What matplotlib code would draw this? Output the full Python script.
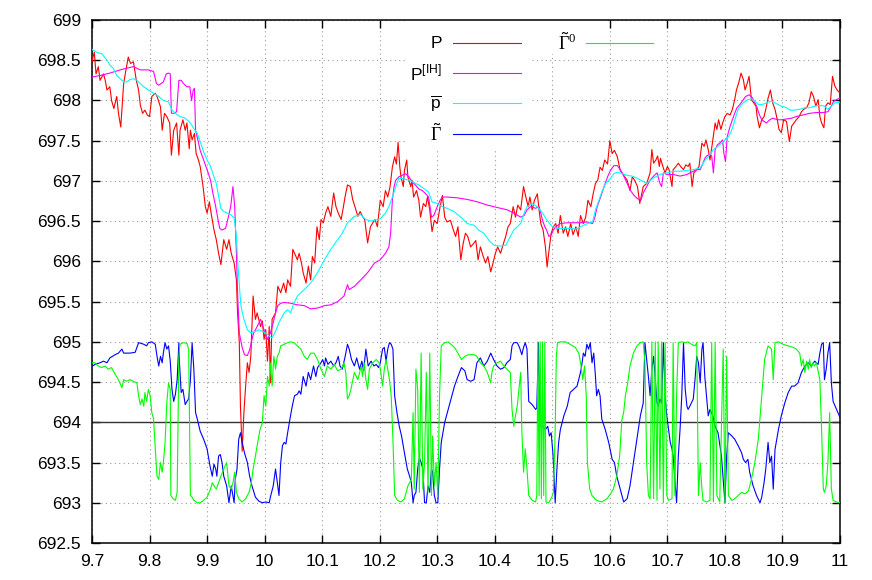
import matplotlib
matplotlib.use("Agg")
import matplotlib.pyplot as plt
from matplotlib.patches import Rectangle
from matplotlib.ticker import MultipleLocator, FormatStrFormatter

plt.rcParams['font.family'] = ['Liberation Sans', 'DejaVu Sans']
plt.rcParams['mathtext.fontset'] = 'custom'
plt.rcParams['mathtext.rm'] = 'Liberation Sans'
plt.rcParams['mathtext.sf'] = 'Liberation Serif'

# price P
p_x = [9.699, 9.704, 9.707, 9.711, 9.714, 9.720, 9.723, 9.726, 9.731, 9.734, 9.738, 9.743, 9.746, 9.750,
       9.755, 9.759, 9.763, 9.767, 9.772, 9.777, 9.781, 9.784, 9.788, 9.792, 9.796, 9.800, 9.804, 9.810,
       9.813, 9.819, 9.822, 9.826, 9.830, 9.835, 9.838, 9.842, 9.847, 9.851, 9.853, 9.858, 9.862, 9.865,
       9.869, 9.871, 9.874, 9.878, 9.881, 9.885, 9.888, 9.893, 9.897, 9.900, 9.904, 9.907, 9.912, 9.916,
       9.920, 9.924, 9.929, 9.934, 9.938, 9.942, 9.947, 9.951, 9.953, 9.956, 9.958, 9.961, 9.964, 9.967,
       9.970, 9.973, 9.976, 9.980, 9.984, 9.987, 9.993, 9.996, 9.999, 10.002, 10.005, 10.008, 10.010,
       10.013, 10.019, 10.023, 10.028, 10.033, 10.037, 10.040, 10.045, 10.049, 10.052, 10.057, 10.060,
       10.064, 10.067, 10.072, 10.076, 10.080, 10.083, 10.087, 10.091, 10.095, 10.098, 10.102, 10.106,
       10.110, 10.115, 10.120, 10.124, 10.128, 10.133, 10.137, 10.140, 10.144, 10.149, 10.153, 10.157,
       10.162, 10.166, 10.170, 10.174, 10.179, 10.184, 10.188, 10.192, 10.196,
       10.201, 10.206, 10.210, 10.214, 10.218, 10.222, 10.226, 10.229, 10.232, 10.235, 10.237, 10.241,
       10.243, 10.247, 10.249, 10.254, 10.256, 10.259, 10.264, 10.268, 10.271, 10.276, 10.280, 10.283,
       10.287, 10.291, 10.295, 10.300, 10.305, 10.309, 10.313, 10.317, 10.323, 10.328, 10.332, 10.336,
       10.341, 10.345, 10.349, 10.353, 10.358, 10.363, 10.367, 10.371, 10.375, 10.380, 10.384, 10.388,
       10.393, 10.397, 10.401, 10.405, 10.410, 10.415, 10.419, 10.423, 10.427, 10.432, 10.436, 10.440,
       10.445, 10.450, 10.454, 10.458, 10.461, 10.465, 10.469, 10.474, 10.477, 10.480, 10.484, 10.488,
       10.491, 10.494, 10.498, 10.502, 10.506, 10.510, 10.514, 10.519, 10.523, 10.527, 10.532, 10.536,
       10.541, 10.545, 10.549, 10.554, 10.558, 10.562, 10.567, 10.571, 10.575, 10.579, 10.583, 10.587,
       10.591, 10.596, 10.600, 10.604, 10.608, 10.613, 10.618, 10.622, 10.626, 10.630, 10.635, 10.639,
       10.643, 10.648, 10.652,
       10.658, 10.664, 10.670, 10.673, 10.676, 10.680, 10.683, 10.686, 10.688, 10.693, 10.696, 10.700,
       10.703, 10.708, 10.710, 10.715, 10.719, 10.723, 10.728, 10.732, 10.736, 10.739, 10.743, 10.746,
       10.751, 10.755, 10.760, 10.764, 10.767, 10.771, 10.774, 10.779, 10.783, 10.786, 10.789, 10.793,
       10.796, 10.800, 10.804, 10.809, 10.813, 10.817, 10.820, 10.824, 10.828, 10.832, 10.835, 10.839,
       10.842, 10.846, 10.850, 10.854, 10.856, 10.860, 10.864, 10.868, 10.871, 10.875, 10.879, 10.883,
       10.887, 10.891, 10.894, 10.898, 10.902, 10.907, 10.912, 10.916, 10.920, 10.924, 10.929, 10.933,
       10.937, 10.942, 10.946, 10.950, 10.954, 10.958, 10.962, 10.965, 10.968, 10.972, 10.975, 10.979,
       10.983, 10.987, 10.991, 10.995, 11.000]
p_y = [698.46, 698.60, 698.33, 698.42, 698.25, 698.33, 698.25, 698.13, 698.17, 698.00, 697.90, 698.05, 697.84, 697.67,
       698.21, 698.38, 698.54, 698.46, 698.48, 698.25, 698.13, 697.94, 697.84, 697.88, 697.82, 697.80, 698.05, 698.09,
       698.05, 697.92, 697.63, 697.84, 697.80, 697.72, 697.32, 697.63, 697.72, 697.32, 697.63, 697.76, 697.63, 697.72,
       697.40, 697.63, 697.51, 697.59, 697.34, 697.26, 697.18, 696.93, 696.68, 696.60, 696.74, 696.60, 696.39, 696.27,
       696.10, 695.96, 696.27, 696.15, 696.27, 696.10, 695.98, 695.77, 695.36, 694.99, 694.20, 693.64, 694.12, 694.45,
       694.74, 694.62, 694.82, 695.57, 695.28, 695.36, 695.19, 695.26, 695.03, 695.15, 694.76, 695.19, 694.49,
       695.28, 695.36, 695.69, 695.61, 695.73, 695.61, 695.77, 695.69, 696.15, 696.10, 696.02, 696.10,
       695.98, 695.86, 695.73, 695.94, 695.77, 696.06, 695.98, 696.43, 696.27, 696.52, 696.48, 696.60,
       696.68, 696.56, 696.85, 696.68, 696.60, 696.52, 696.68, 696.81, 696.95, 696.93, 696.77, 696.68,
       696.56, 696.62, 696.56, 696.52, 696.23, 696.43, 696.48, 696.52, 696.43,
       696.76, 696.68, 696.88, 696.80, 696.93, 697.17, 697.30, 697.21, 697.48, 697.17, 697.05, 696.93,
       697.13, 697.26, 697.05, 696.93, 697.01, 696.80, 696.88, 696.76, 696.55, 696.72, 696.68, 696.80,
       696.64, 696.37, 696.51, 696.47, 696.68, 696.82, 696.55, 696.49, 696.51, 696.39, 696.31, 696.43,
       696.02, 696.22, 696.35, 696.31, 696.18, 696.22, 696.26, 696.02, 696.18, 696.06, 695.98, 696.06,
       695.87, 695.98, 696.10, 696.18, 696.10, 696.22, 696.31, 696.43, 696.47, 696.68, 696.55, 696.70,
       696.64, 696.93, 696.80, 696.68, 696.80, 696.64, 696.76, 696.84, 696.64, 696.47, 696.39, 696.18,
       695.93, 696.12, 696.35, 696.43, 696.47, 696.35, 696.57, 696.35, 696.43, 696.31, 696.47, 696.33,
       696.43, 696.31, 696.57, 696.47, 696.55, 696.76, 696.68, 696.84, 696.97, 697.01, 697.17, 697.13,
       697.26, 697.21, 697.50, 697.34, 697.38, 697.30, 697.13, 697.09, 697.05, 697.01, 696.88, 697.05,
       697.01, 696.93, 696.72,
       696.93, 696.97, 697.10, 697.39, 697.22, 697.26, 697.31, 697.18, 697.28, 697.16, 697.10, 697.18,
       697.14, 696.93, 697.14, 697.18, 697.22, 697.18, 697.14, 697.20, 697.18, 697.22, 696.93, 697.10,
       697.14, 697.18, 697.47, 697.43, 697.51, 697.39, 697.26, 697.51, 697.72, 697.64, 697.76, 697.64,
       697.72, 697.80, 697.84, 697.82, 697.89, 698.01, 698.13, 698.22, 698.34, 698.26, 698.13, 698.22,
       698.30, 698.01, 697.97, 697.93, 697.80, 697.66, 697.76, 697.80, 697.89, 698.03, 698.13, 697.97,
       697.89, 697.76, 697.64, 697.60, 697.76, 697.74, 697.49, 697.68, 697.72, 697.76, 697.80, 697.86,
       697.89, 697.91, 697.97, 698.11, 698.05, 697.93, 698.01, 697.80, 697.72, 697.66, 697.93, 697.97,
       697.95, 698.30, 698.18, 698.13, 698.09]

# P^[IH]
pih_x = [9.699, 9.714, 9.731, 9.749, 9.760, 9.772, 9.784, 9.798, 9.807, 9.812, 9.816, 9.820, 9.824, 9.829,
         9.833, 9.836, 9.838, 9.842, 9.847, 9.851, 9.855, 9.859, 9.865, 9.870, 9.873, 9.876, 9.878, 9.880,
         9.884, 9.888, 9.894, 9.900, 9.906, 9.910, 9.915, 9.919, 9.922, 9.926, 9.932, 9.936, 9.941, 9.945,
         9.948, 9.951, 9.953, 9.956, 9.961, 9.965, 9.970, 9.974, 9.978, 9.981, 9.987, 9.993, 9.999, 10.005,
         10.010, 10.015, 10.019, 10.023, 10.028, 10.034, 10.045, 10.057, 10.069, 10.080, 10.092, 10.104,
         10.115, 10.127, 10.138, 10.144, 10.147, 10.156, 10.167, 10.179, 10.191, 10.201, 10.210, 10.216,
         10.219, 10.222, 10.225, 10.228, 10.233, 10.239, 10.245, 10.251, 10.256, 10.262, 10.268, 10.274,
         10.280, 10.285, 10.290, 10.294, 10.300, 10.305, 10.309, 10.317, 10.335, 10.352, 10.370, 10.387,
         10.404, 10.422, 10.433, 10.445, 10.451, 10.456, 10.462, 10.471, 10.477, 10.480, 10.483, 10.487,
         10.490, 10.494, 10.498, 10.502, 10.506, 10.514, 10.526, 10.538, 10.549, 10.561, 10.570, 10.574,
         10.578, 10.584, 10.590, 10.596, 10.601, 10.607, 10.613, 10.619, 10.625, 10.630, 10.636, 10.642,
         10.648, 10.654, 10.658, 10.664, 10.670, 10.676, 10.682, 10.687, 10.690, 10.693, 10.699, 10.710,
         10.722, 10.734, 10.745, 10.751, 10.757, 10.762, 10.765, 10.768, 10.773, 10.777, 10.780, 10.783,
         10.787, 10.791, 10.796, 10.798, 10.801, 10.804, 10.809, 10.813, 10.817, 10.821, 10.826, 10.832,
         10.836, 10.842, 10.848, 10.852, 10.855, 10.860, 10.864, 10.868, 10.872, 10.878, 10.883, 10.887,
         10.893, 10.898, 10.907, 10.916, 10.924, 10.936, 10.947, 10.959, 10.971, 10.979, 10.985, 10.989,
         10.994, 11.000]
pih_y = [698.29, 698.31, 698.34, 698.38, 698.40, 698.42, 698.38, 698.38, 698.36, 698.21, 698.19, 698.21, 698.23, 698.33,
         698.34, 698.33, 697.84, 697.84, 697.86, 698.25, 698.25, 698.21, 698.17, 698.17, 698.00, 698.13, 698.15, 697.63,
         697.51, 697.38, 697.26, 697.14, 697.01, 696.85, 696.68, 696.52, 696.41, 696.39, 696.41, 696.52, 696.68, 696.93,
         696.68, 696.10, 695.61, 695.11, 694.93, 694.84, 694.83, 694.90, 695.03, 695.11, 695.19, 695.28, 695.15, 695.03,
         695.11, 695.24, 695.36, 695.45, 695.48, 695.49, 695.48, 695.46, 695.45, 695.41, 695.42, 695.45,
         695.46, 695.50, 695.57, 695.71, 695.65, 695.69, 695.77, 695.86, 695.98, 696.02, 696.10, 696.18,
         696.35, 696.76, 696.93, 697.01, 697.05, 697.07, 697.09, 697.05, 696.99, 696.95, 696.90, 696.88,
         696.84, 696.80, 696.55, 696.57, 696.68, 696.76, 696.80, 696.80, 696.79, 696.77, 696.74, 696.70,
         696.67, 696.64, 696.60, 696.55, 696.57, 696.64, 696.68, 696.66, 696.68, 696.60, 696.51, 696.43,
         696.39, 696.31, 696.33, 696.39, 696.43, 696.47, 696.48, 696.48, 696.48, 696.49, 696.47, 696.55,
         696.68, 696.80, 696.93, 697.05, 697.13, 697.19, 697.19, 697.13, 697.05, 696.97, 696.88, 696.82,
         696.78, 696.76, 696.85, 696.93, 697.01, 697.06, 697.10, 696.97, 696.93, 697.10, 697.08, 697.08,
         697.06, 697.08, 697.12, 697.14, 697.14, 697.22, 697.28, 697.31, 697.33, 697.31, 697.10, 697.39,
         697.45, 697.47, 697.51, 697.35, 697.24, 697.55, 697.68, 697.76, 697.84, 697.91, 697.95, 698.01,
         698.05, 698.07, 698.03, 697.97, 697.93, 697.82, 697.76, 697.74, 697.72, 697.76, 697.78, 697.77,
         697.76, 697.76, 697.77, 697.78, 697.80, 697.82, 697.84, 697.85, 697.85, 697.86, 697.93, 697.99,
         698.01, 698.03]

# p bar
pbar_x = [9.699, 9.708, 9.717, 9.726, 9.731, 9.737, 9.743, 9.749, 9.755, 9.760, 9.766, 9.772, 9.778, 9.784,
          9.790, 9.798, 9.807, 9.816, 9.824, 9.833, 9.839, 9.845, 9.853, 9.862, 9.871, 9.877, 9.883, 9.888,
          9.894, 9.900, 9.906, 9.912, 9.916, 9.920, 9.924, 9.929, 9.935, 9.941, 9.947, 9.951, 9.953, 9.957,
          9.959, 9.964, 9.970, 9.976, 9.984, 9.990, 9.996, 10.002, 10.008, 10.013, 10.019, 10.025, 10.034,
          10.040, 10.045, 10.051, 10.057, 10.069, 10.080, 10.092, 10.104, 10.115, 10.127, 10.135, 10.144,
          10.156, 10.167, 10.176, 10.185, 10.196, 10.201, 10.210, 10.216, 10.222, 10.228, 10.233, 10.239,
          10.245, 10.251, 10.256, 10.262, 10.268, 10.274, 10.280, 10.285, 10.291, 10.300, 10.309, 10.317,
          10.329, 10.341, 10.352, 10.364, 10.372, 10.381, 10.390, 10.399, 10.410, 10.419, 10.427, 10.433,
          10.439, 10.445, 10.451, 10.456, 10.465, 10.474, 10.483, 10.491, 10.500, 10.509, 10.520, 10.532,
          10.541, 10.549, 10.561, 10.570, 10.575, 10.581, 10.587, 10.593, 10.601, 10.607, 10.613, 10.622,
          10.630, 10.639, 10.648, 10.664, 10.676, 10.687, 10.699, 10.710, 10.722, 10.734, 10.745, 10.757,
          10.762, 10.768, 10.774, 10.780, 10.788, 10.794, 10.800, 10.806, 10.810, 10.814, 10.819, 10.823,
          10.829, 10.835, 10.840, 10.846, 10.852, 10.858, 10.864, 10.869, 10.875, 10.881, 10.887, 10.892,
          10.898, 10.907, 10.913, 10.921, 10.930, 10.939, 10.947, 10.956, 10.965, 10.973, 10.979, 10.985,
          10.991, 11.000]
pbar_y = [698.64, 698.60, 698.58, 698.50, 698.44, 698.40, 698.31, 698.27, 698.23, 698.23, 698.26, 698.27, 698.25, 698.21,
          698.17, 698.13, 698.09, 698.05, 698.00, 697.98, 697.88, 697.84, 697.80, 697.78, 697.72, 697.65, 697.59, 697.49,
          697.36, 697.26, 697.18, 697.05, 696.97, 696.81, 696.66, 696.62, 696.60, 696.58, 696.54, 696.31, 696.02, 695.61,
          695.44, 695.28, 695.15, 695.11, 695.13, 695.15, 695.13, 695.11, 695.07, 695.05, 695.13, 695.24, 695.36,
          695.40, 695.36, 695.48, 695.57, 695.65, 695.73, 695.86, 696.02, 696.15, 696.27, 696.35, 696.48,
          696.56, 696.58, 696.52, 696.50, 696.52, 696.53, 696.60, 696.68, 696.80, 696.93, 697.03, 697.03,
          697.02, 697.01, 696.99, 696.97, 696.95, 696.92, 696.89, 696.86, 696.74, 696.72, 696.68, 696.66,
          696.62, 696.55, 696.47, 696.45, 696.39, 696.35, 696.26, 696.20, 696.19, 696.20, 696.31, 696.39,
          696.43, 696.47, 696.60, 696.68, 696.72, 696.68, 696.60, 696.51, 696.43, 696.41, 696.41, 696.41,
          696.40, 696.43, 696.47, 696.49, 696.64, 696.76, 696.88, 696.97, 697.03, 697.09, 697.11, 697.09,
          697.07, 697.06, 697.03, 696.97, 697.04, 697.08, 697.10, 697.12, 697.12, 697.13, 697.14, 697.16,
          697.22, 697.28, 697.33, 697.39, 697.43, 697.47, 697.51, 697.55, 697.60, 697.68, 697.80, 697.89,
          697.95, 697.99, 698.01, 698.02, 697.99, 697.95, 697.95, 697.96, 697.98, 697.99, 697.97, 697.95,
          697.93, 697.91, 697.88, 697.88, 697.89, 697.91, 697.91, 697.93, 697.94, 697.93, 697.89, 697.93,
          697.97, 697.98]

# Gamma tilde (shown between 693 and 695)
gam_x = [9.697, 9.705, 9.714, 9.720, 9.726, 9.731, 9.740, 9.746, 9.752, 9.755, 9.760, 9.766, 9.775, 9.778,
         9.781, 9.790, 9.795, 9.798, 9.804, 9.810, 9.813, 9.816, 9.819, 9.822, 9.824, 9.827, 9.830, 9.833,
         9.836, 9.839, 9.842, 9.845, 9.848, 9.851, 9.852, 9.855, 9.858, 9.862, 9.865, 9.868, 9.871, 9.874,
         9.877, 9.880, 9.883, 9.888, 9.894, 9.900, 9.905, 9.909, 9.912, 9.915, 9.917, 9.920, 9.923, 9.926,
         9.929, 9.934, 9.938, 9.942, 9.947, 9.949, 9.952, 9.955, 9.958, 9.961, 9.965, 9.970, 9.974, 9.978,
         9.984, 9.990, 9.996, 10.002, 10.008, 10.010, 10.015, 10.019, 10.022, 10.025, 10.028, 10.031,
         10.034, 10.037, 10.040, 10.044, 10.048, 10.052, 10.057, 10.060, 10.063, 10.067, 10.072, 10.076,
         10.080, 10.085, 10.089, 10.092, 10.098, 10.101, 10.104, 10.106, 10.110, 10.115, 10.120, 10.124,
         10.128, 10.131, 10.135, 10.140, 10.144, 10.147, 10.151, 10.156, 10.160, 10.165, 10.169, 10.172,
         10.176, 10.180, 10.185, 10.190, 10.194, 10.198, 10.201, 10.205, 10.208, 10.211, 10.214, 10.217,
         10.220, 10.223, 10.226, 10.230, 10.234, 10.238, 10.243, 10.248, 10.252, 10.255, 10.258, 10.260,
         10.263, 10.266, 10.269, 10.272, 10.275, 10.278, 10.281, 10.284, 10.287, 10.290, 10.292, 10.295,
         10.298, 10.301, 10.304, 10.307, 10.313, 10.319, 10.324, 10.330, 10.336, 10.342, 10.348,
         10.352, 10.358, 10.364, 10.369, 10.375, 10.381, 10.387, 10.393, 10.398, 10.404, 10.410, 10.416,
         10.421, 10.427, 10.430, 10.433, 10.439, 10.443, 10.447, 10.450, 10.453, 10.456, 10.459, 10.465,
         10.471, 10.473, 10.476, 10.478, 10.482, 10.488, 10.492, 10.495, 10.498, 10.501, 10.503, 10.505,
         10.508, 10.511, 10.514, 10.520, 10.526, 10.531, 10.537, 10.543, 10.549, 10.551, 10.554, 10.557,
         10.560, 10.563, 10.566, 10.569, 10.572, 10.575, 10.577, 10.580, 10.583, 10.586, 10.592, 10.598,
         10.604, 10.608, 10.612, 10.618, 10.624, 10.630, 10.635, 10.641, 10.647, 10.653, 10.658, 10.661,
         10.664, 10.667, 10.670, 10.673, 10.676, 10.679, 10.682, 10.684, 10.687, 10.690, 10.693, 10.696,
         10.699, 10.702, 10.705, 10.708, 10.710, 10.713, 10.716, 10.719, 10.722, 10.725, 10.728, 10.731,
         10.734, 10.736, 10.739, 10.745, 10.748, 10.751, 10.754, 10.757, 10.760, 10.762, 10.765, 10.768,
         10.771, 10.774, 10.779, 10.783, 10.788, 10.794, 10.800, 10.803, 10.806, 10.812, 10.817, 10.823,
         10.829, 10.832, 10.836, 10.840, 10.843, 10.849, 10.855, 10.861, 10.864, 10.868, 10.871, 10.875,
         10.878, 10.881, 10.884, 10.887, 10.893, 10.898, 10.904, 10.910, 10.916, 10.921, 10.927, 10.933,
         10.939, 10.945, 10.950, 10.956, 10.962, 10.965, 10.968, 10.971, 10.973, 10.976, 10.979, 10.982,
         10.985, 10.988, 10.994, 11.000]
gam_y = [694.68, 694.72, 694.74, 694.76, 694.74, 694.80, 694.84, 694.86, 694.91, 694.86, 694.86, 694.86, 694.87, 694.93,
         694.99, 694.97, 694.95, 694.99, 695.00, 694.97, 694.82, 694.70, 694.82, 694.74, 694.86, 694.99, 694.91, 694.95,
         694.76, 694.41, 694.26, 694.35, 694.53, 694.99, 694.74, 694.37, 694.41, 694.22, 694.26, 694.29, 694.53, 694.99,
         694.66, 694.12, 694.04, 693.89, 693.79, 693.67, 693.46, 693.33, 693.48, 693.42, 693.33, 693.58, 693.60, 693.50,
         693.33, 693.21, 693.00, 693.21, 693.00, 693.29, 693.42, 693.79, 693.87, 693.75, 693.62, 693.50, 693.33, 693.21,
         693.07, 693.02, 693.00, 693.01, 693.00, 693.07, 693.21, 693.42, 693.25, 693.09, 693.50, 693.71,
         693.75, 693.73, 693.87, 694.04, 694.20, 694.33, 694.35, 694.39, 694.35, 694.57, 694.45, 694.62,
         694.53, 694.70, 694.57, 694.68, 694.74, 694.78, 694.70, 694.80, 694.72, 694.76, 694.70, 694.74,
         694.82, 694.70, 694.66, 694.82, 694.97, 694.91, 694.78, 694.70, 694.80, 694.66, 694.76, 694.64,
         694.91, 694.70, 694.76, 694.70, 694.72, 694.68, 694.74, 694.91, 694.93, 694.76, 694.91, 694.99,
         694.97, 694.91, 694.33, 694.12, 693.95, 693.83, 693.62, 693.42, 693.33, 693.25, 693.00, 693.09,
         693.13, 693.42, 693.56, 693.50, 693.42, 693.00, 693.00, 693.21, 693.13, 693.42, 693.38, 693.09,
         693.00, 693.00, 693.42, 693.75, 694.00, 694.16, 694.29, 694.45, 694.57, 694.68, 694.64,
         694.53, 694.51, 694.53, 694.74, 694.80, 694.70, 694.76, 694.86, 694.78, 694.70, 694.66, 694.68,
         694.74, 694.78, 694.95, 694.99, 694.99, 694.93, 694.84, 694.93, 694.99, 694.91, 694.26, 694.22,
         694.16, 694.18, 694.99, 693.96, 693.95, 693.91, 693.95, 693.83, 693.87, 693.62, 693.33, 693.00,
         693.42, 693.75, 693.91, 694.08, 694.20, 694.37, 694.41, 694.45, 694.62, 694.70, 694.86, 694.82,
         694.97, 694.91, 694.99, 694.74, 694.86, 694.57, 694.33, 694.41, 694.33, 694.04, 693.91, 693.75,
         693.54, 693.50, 693.33, 693.17, 693.01, 693.05, 693.21, 693.50, 693.79, 694.08, 694.24, 694.99,
         694.78, 694.57, 694.33, 694.66, 694.82, 694.53, 694.24, 694.20, 694.29, 694.24, 694.99, 694.33,
         694.08, 693.91, 693.75, 693.67, 693.58, 693.29, 693.00, 693.58, 693.91, 694.33, 694.99, 694.41,
         694.20, 694.16, 694.20, 694.29, 694.53, 694.82, 694.74, 694.49, 694.91, 694.99, 694.57, 694.33,
         694.08, 694.16, 694.08, 693.95, 693.87, 693.58, 693.00, 693.58, 693.87, 693.83, 693.79, 693.71,
         693.62, 693.54, 693.50, 693.54, 693.38, 693.21, 693.09, 693.00, 693.07, 693.25, 693.42, 693.75,
         693.50, 693.58, 693.17, 693.66, 693.91, 694.08, 694.24, 694.37, 694.45, 694.45, 694.49, 694.62,
         694.70, 694.74, 694.70, 694.76, 694.72, 694.86, 694.97, 694.99, 694.53, 694.66, 694.86, 694.99,
         694.49, 694.26, 694.16, 694.06]

# Gamma tilde 0
gam0_x = [9.697, 9.705, 9.711, 9.717, 9.723, 9.728, 9.734, 9.740, 9.746, 9.752, 9.755, 9.760, 9.766, 9.772,
          9.778, 9.781, 9.784, 9.787, 9.790, 9.792, 9.795, 9.798, 9.801, 9.804, 9.807, 9.810, 9.813, 9.816,
          9.819, 9.822, 9.824, 9.827, 9.830, 9.833, 9.836, 9.837, 9.841, 9.845, 9.848, 9.851, 9.853, 9.859,
          9.865, 9.868, 9.871, 9.874, 9.877, 9.883, 9.888, 9.894, 9.900, 9.906, 9.909, 9.912, 9.916, 9.920,
          9.924, 9.929, 9.934, 9.938, 9.942, 9.945, 9.948, 9.951, 9.955, 9.961, 9.967, 9.973, 9.977, 9.980,
          9.984, 9.988, 9.992, 9.996, 9.999, 10.002, 10.005, 10.008, 10.010, 10.013, 10.016, 10.019, 10.022,
          10.025, 10.028, 10.034, 10.040, 10.045, 10.051, 10.057, 10.063, 10.069, 10.074, 10.080, 10.086,
          10.092, 10.098, 10.104, 10.109, 10.115, 10.121, 10.127, 10.133, 10.138, 10.141, 10.144, 10.147,
          10.150, 10.156, 10.162, 10.168, 10.170, 10.173, 10.176, 10.179, 10.182, 10.188, 10.194, 10.199,
          10.202, 10.205, 10.208, 10.211, 10.214, 10.217, 10.220, 10.223, 10.226, 10.231, 10.237, 10.243,
          10.249, 10.255, 10.258, 10.260, 10.263, 10.266, 10.269, 10.272, 10.275, 10.278, 10.281, 10.284,
          10.287, 10.290, 10.292, 10.295, 10.298, 10.301, 10.304, 10.307, 10.313, 10.319, 10.324, 10.330,
          10.336, 10.342, 10.348, 10.354, 10.364, 10.369, 10.375, 10.381, 10.387, 10.393, 10.395, 10.398,
          10.404, 10.410, 10.416, 10.421, 10.427, 10.430, 10.433, 10.436, 10.439, 10.442, 10.445, 10.447,
          10.450, 10.453, 10.456, 10.459, 10.465, 10.471, 10.473, 10.475, 10.477, 10.479, 10.481, 10.483,
          10.485, 10.487, 10.489, 10.494, 10.499, 10.502, 10.505, 10.507, 10.509, 10.514, 10.523, 10.531,
          10.540, 10.546, 10.550, 10.553, 10.556, 10.559, 10.561, 10.565, 10.569, 10.577, 10.586, 10.595,
          10.601, 10.606, 10.612, 10.617, 10.621, 10.624, 10.627, 10.631, 10.635, 10.641, 10.647, 10.653,
          10.658, 10.661, 10.664, 10.667, 10.670, 10.673, 10.676, 10.679, 10.682, 10.684, 10.687, 10.690,
          10.693, 10.696, 10.699, 10.702, 10.708, 10.710, 10.713, 10.716, 10.719, 10.725, 10.731, 10.736,
          10.742, 10.748, 10.751, 10.754, 10.757, 10.760, 10.762, 10.768, 10.774, 10.777, 10.780, 10.783,
          10.786, 10.791, 10.797, 10.800, 10.803, 10.806, 10.812, 10.817, 10.823, 10.829, 10.835, 10.841,
          10.846, 10.852, 10.858, 10.864, 10.869, 10.875, 10.881, 10.884, 10.887, 10.893, 10.901, 10.910,
          10.919, 10.924, 10.930, 10.933, 10.936, 10.939, 10.942, 10.945, 10.947, 10.950, 10.953, 10.956,
          10.959, 10.965, 10.968, 10.971, 10.973, 10.976, 10.979, 10.982, 10.985, 10.988, 10.994, 11.000]
gam0_y = [694.74, 694.74, 694.70, 694.68, 694.70, 694.66, 694.68, 694.60, 694.53, 694.43, 694.53, 694.51, 694.53, 694.51,
          694.49, 694.33, 694.22, 694.29, 694.20, 694.37, 694.26, 694.41, 694.33, 694.12, 694.04, 693.67, 693.33, 693.29,
          693.50, 693.38, 693.50, 693.75, 694.24, 694.49, 694.41, 693.09, 693.05, 693.03, 693.13, 694.82, 694.97, 694.99,
          694.98, 694.91, 693.09, 693.07, 693.03, 693.00, 693.00, 693.03, 693.07, 693.17, 693.25, 693.21, 693.17, 693.25,
          693.33, 693.42, 693.50, 693.21, 693.17, 693.25, 693.38, 693.13, 693.05, 693.01, 693.05, 693.13, 693.25, 693.42,
          693.58, 693.75, 693.91, 693.99, 694.33, 694.20, 694.57, 694.45, 694.74, 694.45, 694.82, 694.66, 694.82,
          694.86, 694.95, 694.97, 694.99, 695.00, 694.99, 694.95, 694.91, 694.82, 694.78, 694.86, 694.86,
          694.78, 694.66, 694.57, 694.70, 694.66, 694.72, 694.64, 694.66, 694.74, 694.62, 694.29, 694.33,
          694.41, 694.62, 694.53, 694.70, 694.57, 694.74, 694.53, 694.41, 694.66, 694.74, 694.78, 694.74,
          694.62, 694.45, 694.66, 694.78, 694.66, 694.53, 694.33, 693.79, 693.09, 693.03, 693.01, 693.05,
          693.21, 693.29, 694.12, 693.17, 694.66, 694.41, 693.13, 694.86, 693.17, 693.50, 694.62, 693.13,
          694.86, 693.09, 693.83, 693.21, 693.50, 693.09, 694.33, 694.95, 694.99, 695.00, 694.97, 694.93,
          694.86, 694.78, 694.82, 694.84, 694.84, 694.82, 694.74, 694.70, 694.62, 694.49, 694.62, 694.70,
          694.74, 694.76, 694.70, 694.66, 694.62, 694.16, 693.95, 694.08, 694.20, 694.41, 694.62, 693.91,
          693.38, 693.67, 693.42, 693.09, 693.03, 693.01, 693.09, 695.00, 693.09, 695.00, 693.05, 695.00,
          693.09, 695.00, 693.01, 693.00, 693.07, 693.13, 693.91, 694.82, 694.99, 695.00, 695.00, 694.97,
          694.93, 694.86, 694.70, 694.53, 694.70, 694.33, 693.50, 693.17, 693.09, 693.03, 693.01, 693.05,
          693.11, 693.17, 693.33, 693.58, 694.04, 694.12, 694.33, 694.49, 694.70, 694.86, 694.95, 694.99,
          695.00, 694.74, 693.50, 693.09, 693.05, 695.00, 693.05, 695.00, 693.03, 695.00, 693.17, 695.00,
          693.00, 694.99, 693.09, 693.03, 693.05, 694.99, 693.09, 694.33, 694.99, 695.00, 694.99, 695.00,
          694.97, 694.95, 694.99, 693.09, 693.50, 693.17, 693.03, 693.01, 693.03, 694.99, 693.01, 694.99,
          693.09, 693.01, 694.91, 693.00, 694.82, 693.09, 693.03, 693.05, 693.09, 693.13, 693.11, 693.15,
          693.29, 693.50, 693.79, 694.33, 694.78, 694.95, 694.91, 694.53, 694.99, 695.00, 694.97, 694.95,
          694.93, 694.91, 694.86, 694.70, 694.78, 694.62, 694.76, 694.66, 694.78, 694.68, 694.74, 694.70,
          694.74, 694.53, 693.91, 693.17, 693.13, 693.21, 693.50, 694.12, 693.17, 693.03, 693.01, 693.00]

labels = ['P', r'$\mathrm{P}^{\mathrm{[IH]}}$', r'$\overline{\mathrm{p}}$',
          r'$\tilde{\mathsf{\Gamma}}$', r'$\tilde{\mathsf{\Gamma}}^{\mathsf{0}}$']
colors = ['#ff0000', '#ff00ff', '#00ffff', '#0000ff', '#00ff00']

fig = plt.figure(figsize=(8.72, 5.8), dpi=100)
ax = fig.add_axes([92 / 872, 37 / 580, 748 / 872, 523 / 580])

series = [(p_x, p_y), (pih_x, pih_y), (pbar_x, pbar_y), (gam_x, gam_y), (gam0_x, gam0_y)]
for i, (xs, ys) in enumerate(series):
    ax.plot(xs, ys, color=colors[i], lw=0.8, zorder=3 + i)

ax.axhline(694, color='#333333', lw=1.0, zorder=2)

ax.set_xlim(9.7, 11)
ax.set_ylim(692.5, 699)
ax.xaxis.set_major_locator(MultipleLocator(0.1))
ax.yaxis.set_major_locator(MultipleLocator(0.5))
ax.xaxis.set_major_formatter(FormatStrFormatter('%g'))
ax.yaxis.set_major_formatter(FormatStrFormatter('%g'))
ax.tick_params(direction='in', top=True, right=True, length=6, width=1.0,
               labelsize=12.5, pad=8)
ax.set_axisbelow(True)
ax.grid(True, color='#9a9a9a', lw=0.8, linestyle=(0, (1, 3)))
for s in ax.spines.values():
    s.set_linewidth(1.1)

# opaque key area, as gnuplot draws it
ax.add_patch(Rectangle((0.420, 0.750), 0.167, 0.25, transform=ax.transAxes,
                       facecolor='white', edgecolor='none', zorder=1))
ax.add_patch(Rectangle((0.587, 0.935), 0.10, 0.065, transform=ax.transAxes,
                       facecolor='white', edgecolor='none', zorder=1))

# key entries: text right aligned, sample line to its right
key_rows = [(0.468, 0.956, 0.483, 0.574), (0.468, 0.899, 0.483, 0.574),
            (0.468, 0.841, 0.483, 0.574), (0.468, 0.782, 0.483, 0.574),
            (0.648, 0.956, 0.660, 0.750)]
for i, (tx, ty, lx0, lx1) in enumerate(key_rows):
    ax.text(tx, ty, labels[i], transform=ax.transAxes, ha='right', va='center',
            fontsize=13 if i >= 3 else 12.5, zorder=10)
    ax.plot([lx0, lx1], [ty, ty], transform=ax.transAxes, color=colors[i], lw=0.8, zorder=10)

fig.savefig('out.png', dpi=100)
